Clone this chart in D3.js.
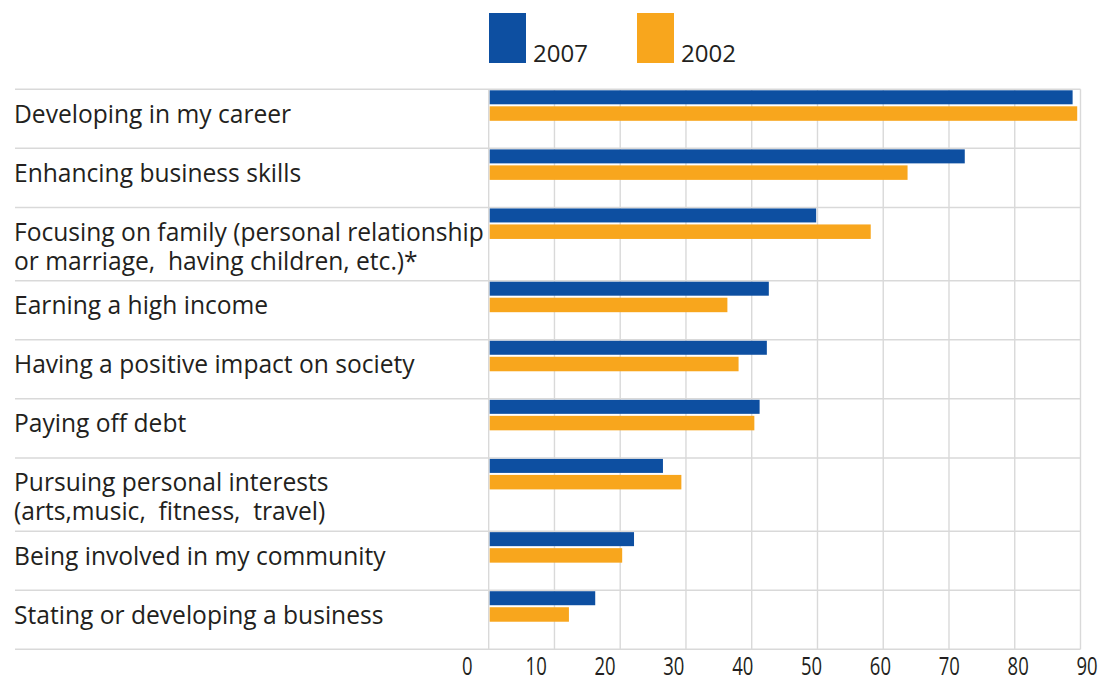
<!DOCTYPE html>
<html>
<head>
<meta charset="utf-8">
<script src="https://cdn.jsdelivr.net/npm/d3@7"></script>
<style>
  html, body { margin: 0; padding: 0; background: #fff; }
  svg text { font-family: "Open Sans", "Noto Sans", sans-serif; fill: #231f20; }
</style>
</head>
<body>
<svg id="chart" width="1110" height="683"></svg>
<script>
// Goals for the next years, share of respondents (%)
const categories = [
  ["Developing in my career"],
  ["Enhancing business skills"],
  ["Focusing on family (personal relationship", "or marriage,  having children, etc.)*"],
  ["Earning a high income"],
  ["Having a positive impact on society"],
  ["Paying off debt"],
  ["Pursuing personal interests", "(arts,music,  fitness,  travel)"],
  ["Being involved in my community"],
  ["Stating or developing a business"]
];
const values2007 = [88.8, 72.4, 49.8, 42.6, 42.3, 41.2, 26.5, 22.1, 16.2];
const values2002 = [89.5, 63.7, 58.1, 36.3, 38.0, 40.4, 29.3, 20.3, 12.2];
const seriesNames = ["2007", "2002"];
const tickValues = [0, 10, 20, 30, 40, 50, 60, 70, 80, 90];

const colors = { "2007": "#0d4fa1", "2002": "#f8a61d" };
const gridColor = "#d9d9d9";

const svg = d3.select("#chart");

// Horizontal value scale for bars and gridlines
const x = d3.scaleLinear().domain([0, 90]).range([488.7, 1080.5]);
// Tick labels sit on their own, slightly wider track
const xLabel = d3.scaleLinear().domain([0, 90]).range([466.8, 1086.5]);

// Rows grow with the number of label lines
const rowUnits = categories.map(c => 1 + 0.24 * (c.length - 1));
const cum = [0];
rowUnits.forEach(u => cum.push(cum[cum.length - 1] + u));
const y = d3.scaleLinear().domain([0, cum[cum.length - 1]]).range([89.3, 649.3]);

const rows = categories.map((lines, i) => ({
  lines,
  top: y(cum[i]),
  bottom: y(cum[i + 1]),
  v2007: values2007[i],
  v2002: values2002[i]
}));

// Vertical gridlines
svg.append("g")
  .selectAll("line")
  .data(tickValues)
  .join("line")
  .attr("x1", d => x(d)).attr("x2", d => x(d))
  .attr("y1", y(0)).attr("y2", y(cum[cum.length - 1]))
  .attr("stroke", gridColor)
  .attr("stroke-width", 1.4);

// Row separators
const sepYs = [y(0)].concat(rows.map(r => r.bottom));
svg.append("g")
  .selectAll("line")
  .data(sepYs)
  .join("line")
  .attr("x1", 15).attr("x2", x(90))
  .attr("y1", d => d).attr("y2", d => d)
  .attr("stroke", gridColor)
  .attr("stroke-width", 1.5);

// Bars
const barH = 14;
const bars = svg.append("g");
bars.selectAll("rect.b2007")
  .data(rows)
  .join("rect")
  .attr("class", "b2007")
  .attr("x", x(0) + 1)
  .attr("y", d => d.top + 1)
  .attr("width", d => x(d.v2007) - x(0) - 1)
  .attr("height", barH)
  .attr("fill", colors["2007"]);
bars.selectAll("rect.b2002")
  .data(rows)
  .join("rect")
  .attr("class", "b2002")
  .attr("x", x(0) + 1)
  .attr("y", d => d.top + 17)
  .attr("width", d => x(d.v2002) - x(0) - 1)
  .attr("height", barH + 0.5)
  .attr("fill", colors["2002"]);

// Category labels, one text element per line
const labels = svg.append("g");
rows.forEach(r => {
  r.lines.forEach((line, j) => {
    labels.append("text")
      .attr("x", 14)
      .attr("y", r.top + 33.5 + j * 28.8)
      .attr("xml:space", "preserve")
      .style("white-space", "pre")
      .style("font-size", "24.6px")
      .text(line);
  });
});

// Value axis labels
const axis = d3.axisBottom(xLabel).tickValues(tickValues).tickSize(0).tickFormat(d3.format("d"));
const ag = svg.append("g")
  .attr("transform", "translate(0,675)")
  .call(axis);
ag.select(".domain").remove();
ag.selectAll(".tick text")
  .attr("y", 0)
  .attr("dy", 0)
  .attr("transform", "scale(0.74,1)")
  .style("font-family", "'Open Sans', sans-serif")
  .style("font-size", "25px")
  .attr("fill", "#231f20");

// Legend
const legendX = [489, 637];
const legend = svg.append("g");
seriesNames.forEach((name, i) => {
  legend.append("rect")
    .attr("x", legendX[i]).attr("y", 13)
    .attr("width", 37).attr("height", 50)
    .attr("fill", colors[name]);
  legend.append("text")
    .attr("x", legendX[i] + 44)
    .attr("y", 62)
    .style("font-size", "24px")
    .text(name);
});
</script>
</body>
</html>
